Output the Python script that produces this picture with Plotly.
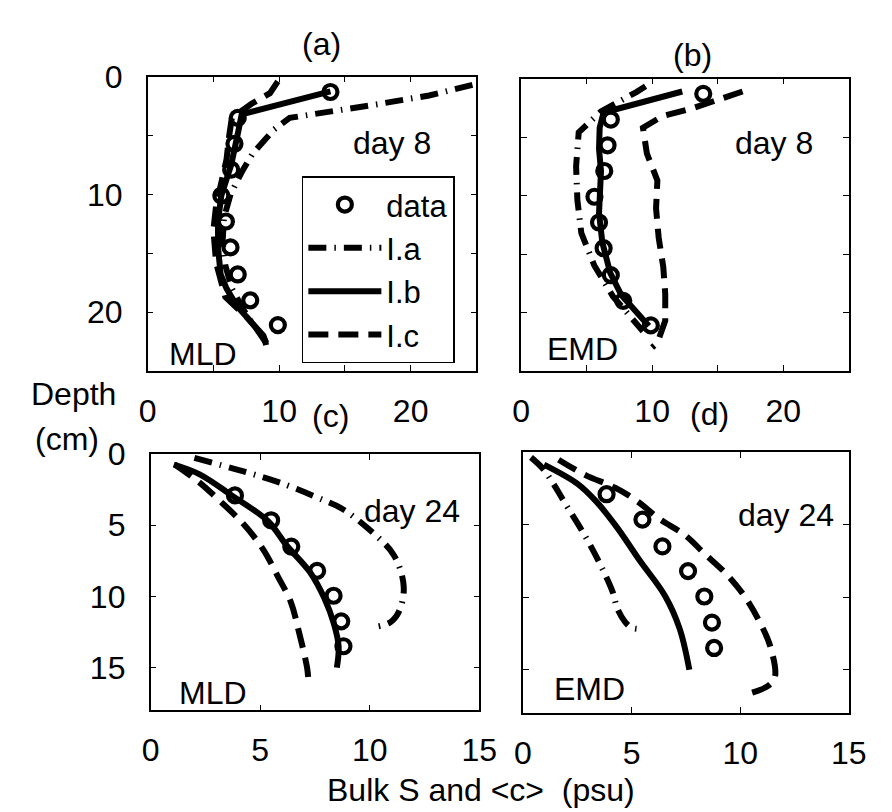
import plotly.graph_objects as go

# ---------------- data ----------------
# observed bulk salinity profiles
day8_depth = [1.3, 3.5, 5.7, 7.9, 10.1, 12.3, 14.5, 16.8, 19.0, 21.1]
day8_S = [13.9, 6.85, 6.6, 6.35, 5.6, 5.95, 6.3, 6.85, 7.8, 9.9]
day24_depth = [2.9, 4.65, 6.5, 8.2, 9.95, 11.75, 13.5]
day24_S = [3.85, 5.5, 6.42, 7.6, 8.35, 8.7, 8.8]

# (a) MLD, day 8
a_Ia_depth = [0.7, 1.6, 2.3, 3.0, 3.5, 4.5, 5.4, 6.5, 8.0, 10.0, 12.0, 14.0, 16.0, 18.0, 20.0, 22.0, 22.6]
a_Ia_S = [24.7, 21.4, 17.7, 13.4, 10.8, 9.6, 8.9, 8.0, 7.2, 6.3, 5.8, 5.7, 5.9, 6.4, 7.4, 8.7, 9.0]
a_Ib_depth = [1.25, 3.2, 4.6, 6.1, 7.5, 8.7, 10.1, 12.3, 14.5, 16.8, 18.0, 19.5, 20.8, 22.0, 22.6]
a_Ib_S = [13.9, 7.15, 6.9, 6.65, 6.35, 6.0, 5.6, 5.35, 5.35, 5.55, 6.0, 6.8, 7.9, 8.8, 9.0]
a_Ic_depth = [0.4, 1.4, 2.3, 3.5, 5.0, 7.0, 9.0, 11.0, 13.0, 15.8, 18.7, 20.5, 22.2, 22.8]
a_Ic_S = [9.9, 9.3, 7.9, 6.4, 6.2, 6.0, 5.6, 5.2, 5.0, 5.2, 5.9, 7.6, 8.9, 9.0]

# (b) EMD, day 8
b_Ia_depth = [0.65, 1.15, 2.8, 4.6, 7.5, 10.4, 13.2, 16.0, 18.6, 20.8, 21.6]
b_Ia_S = [9.5, 8.8, 6.1, 4.4, 4.2, 4.3, 4.6, 5.6, 7.0, 8.8, 9.3]
b_Ib_depth = [1.1, 2.9, 4.2, 6.0, 7.9, 10.1, 11.5, 14.0, 16.6, 18.5, 19.9, 21.15]
b_Ib_S = [12.3, 6.3, 6.0, 5.95, 6.1, 6.0, 5.95, 6.2, 6.8, 7.65, 8.8, 9.75]
b_Ic_depth = [1.1, 1.8, 2.6, 3.2, 4.2, 6.4, 8.7, 11.1, 13.6, 16.1, 18.4, 20.7, 22.6, 23.0]
b_Ic_S = [16.9, 15.1, 12.9, 10.8, 9.3, 9.6, 10.4, 10.3, 10.5, 10.85, 11.0, 11.0, 10.4, 10.0]

# (c) MLD, day 24
c_Ia_depth = [0.27, 1.2, 2.0, 3.24, 3.8, 5.2, 7.1, 9.3, 11.0, 11.8, 12.1]
c_Ia_S = [2.0, 4.2, 5.9, 7.9, 8.7, 9.9, 11.1, 11.55, 11.35, 10.95, 10.4]
c_Ib_depth = [0.73, 1.42, 2.9, 4.7, 6.44, 8.27, 10.1, 11.9, 13.5, 15.0]
c_Ib_S = [1.06, 2.24, 3.7, 5.35, 6.22, 7.26, 7.92, 8.36, 8.58, 8.5]
c_Ic_depth = [0.73, 1.92, 3.2, 4.9, 6.66, 8.6, 10.4, 12.5, 15.0, 15.9]
c_Ic_S = [1.1, 2.17, 3.1, 4.23, 5.12, 5.81, 6.4, 6.77, 7.14, 7.2]

# (d) EMD, day 24
d_Ia_depth = [0.36, 1.14, 2.2, 3.5, 5.7, 7.66, 9.6, 10.8, 11.7, 12.1, 12.2]
d_Ia_S = [0.37, 0.92, 1.41, 1.93, 2.83, 3.53, 4.12, 4.35, 4.7, 5.0, 5.5]
d_Ib_depth = [0.86, 2.2, 3.36, 5.17, 7.44, 9.93, 12.2, 15.0]
d_Ib_S = [0.97, 2.53, 3.35, 4.32, 5.36, 6.55, 7.22, 7.66]
d_Ic_depth = [0.52, 1.6, 2.45, 3.4, 4.6, 5.7, 7.0, 8.35, 9.93, 11.6, 13.45, 15.5, 16.1, 16.7]
d_Ic_S = [1.64, 2.9, 4.24, 5.28, 6.28, 7.44, 8.36, 9.33, 10.2, 10.86, 11.4, 11.6, 11.3, 10.3]

top_xticks = [0, 5, 10, 15, 20, 25]
top_xtext = ["0", "", "10", "", "20", ""]
top_yticks = [0, 5, 10, 15, 20, 25]
top_ytext = ["0", "", "10", "", "20", ""]
bot_xticks = [0, 5, 10, 15]
bot_xtext = ["0", "5", "10", "15"]
bot_yticks = [0, 5, 10, 15]
bot_ytext = ["0", "5", "10", "15"]

# ---------------- styling ----------------
FONT = "Liberation Sans, Arial, Helvetica, sans-serif"
W, H = 892, 812
LW = 6
DASH_A = "18px,8px,1.5px,8px"
DASH_C = "20px,10px"

fig = go.Figure()

panels = [
    ("x", "y", day8_S, day8_depth, (a_Ia_S, a_Ia_depth), (a_Ib_S, a_Ib_depth), (a_Ic_S, a_Ic_depth), True, "linear"),
    ("x2", "y2", day8_S, day8_depth, (b_Ia_S, b_Ia_depth), (b_Ib_S, b_Ib_depth), (b_Ic_S, b_Ic_depth), False, "linear"),
    ("x3", "y3", day24_S, day24_depth, (c_Ia_S, c_Ia_depth), (c_Ib_S, c_Ib_depth), (c_Ic_S, c_Ic_depth), False, "spline"),
    ("x4", "y4", day24_S, day24_depth, (d_Ia_S, d_Ia_depth), (d_Ib_S, d_Ib_depth), (d_Ic_S, d_Ic_depth), False, "spline"),
]

for xa, ya, dS, dD, Ia, Ib, Ic, leg, shape in panels:
    fig.add_trace(go.Scatter(x=Ia[0], y=Ia[1], xaxis=xa, yaxis=ya, mode="lines", name="I.a",
                             showlegend=leg, legendrank=2,
                             line=dict(color="black", width=LW, dash=DASH_A, shape=shape)))
    fig.add_trace(go.Scatter(x=Ib[0], y=Ib[1], xaxis=xa, yaxis=ya, mode="lines", name="I.b",
                             showlegend=leg, legendrank=3,
                             line=dict(color="black", width=LW, shape=shape)))
    fig.add_trace(go.Scatter(x=Ic[0], y=Ic[1], xaxis=xa, yaxis=ya, mode="lines", name="I.c",
                             showlegend=leg, legendrank=4,
                             line=dict(color="black", width=LW, dash=DASH_C, shape=shape)))
    fig.add_trace(go.Scatter(x=dS, y=dD, xaxis=xa, yaxis=ya, mode="markers", name="data",
                             showlegend=leg, legendrank=1,
                             marker=dict(symbol="circle-open", size=14, color="black",
                                         line=dict(width=4.2, color="black"))))


def px_dom_x(a, b):
    return [a / W, b / W]


def px_dom_y(top, bottom):
    return [1 - bottom / H, 1 - top / H]


def ax(domain, rng, tv, tt, anchor, standoff):
    return dict(domain=domain, range=rng, tickvals=tv, ticktext=tt, anchor=anchor,
                showline=True, linecolor="black", linewidth=1.5, mirror="allticks",
                ticks="inside", ticklen=6, tickwidth=1.2, tickcolor="black",
                showgrid=False, zeroline=False, ticklabelstandoff=standoff,
                tickfont=dict(family=FONT, size=32, color="black"), fixedrange=True)


empty6 = ["", "", "", "", "", ""]
layout_axes = dict(
    xaxis=ax(px_dom_x(143, 482), [0, 25], top_xticks, top_xtext, "y", 11),
    yaxis=ax(px_dom_y(60, 361), [25, 0], top_yticks, top_ytext, "x", 17),
    xaxis2=ax(px_dom_x(528, 866), [0, 25], top_xticks, top_xtext, "y2", 11),
    yaxis2=ax(px_dom_y(62, 361), [25, 0], top_yticks, empty6, "x2", 17),
    xaxis3=ax(px_dom_x(146, 485), [0, 15], bot_xticks, bot_xtext, "y3", 11),
    yaxis3=ax(px_dom_y(446, 708), [18, 0], bot_yticks, bot_ytext, "x3", 17),
    xaxis4=ax(px_dom_x(530, 866), [0, 15], bot_xticks, bot_xtext, "y4", 11),
    yaxis4=ax(px_dom_y(444, 711), [18, 0], bot_yticks, ["", "", "", ""], "x4", 17),
)


def txt(s, xp, yp, size=32, yanchor="middle"):
    return dict(text=s, x=xp / W, y=1 - yp / H, xref="paper", yref="paper",
                xanchor="center", yanchor=yanchor, showarrow=False,
                font=dict(family=FONT, size=size, color="black"))


annotations = [
    txt("(a)", 322, 27), txt("(b)", 705, 38), txt("(c)", 332, 407), txt("(d)", 722, 405),
    txt("day 8", 395, 128), txt("day 8", 789, 128),
    txt("day 24", 416, 504), txt("day 24", 801, 508),
    txt("MLD", 200, 344), txt("EMD", 591, 338),
    txt("MLD", 210, 690), txt("EMD", 599, 686),
    txt("Depth", 67, 385), txt("(cm)", 60, 431),
    txt("Bulk S and &lt;c&gt;  (psu)", 487, 810, yanchor="bottom"),
]

fig.update_layout(
    width=W, height=H, margin=dict(l=0, r=0, t=0, b=0),
    paper_bgcolor="white", plot_bgcolor="white",
    font=dict(family=FONT, size=32, color="black"),
    annotations=annotations,
    legend=dict(x=302 / W, y=1 - 162 / H, xanchor="left", yanchor="top",
                bgcolor="white", bordercolor="black", borderwidth=1.5,
                font=dict(family=FONT, size=31, color="black"),
                itemwidth=73, tracegroupgap=0, traceorder="normal"),
    **layout_axes,
)

fig.write_html(
    "out.html",
    config={"displayModeBar": False},
    post_script="document.body.style.margin='0px';document.body.style.padding='0px';"
                "document.body.style.overflow='hidden';",
)
